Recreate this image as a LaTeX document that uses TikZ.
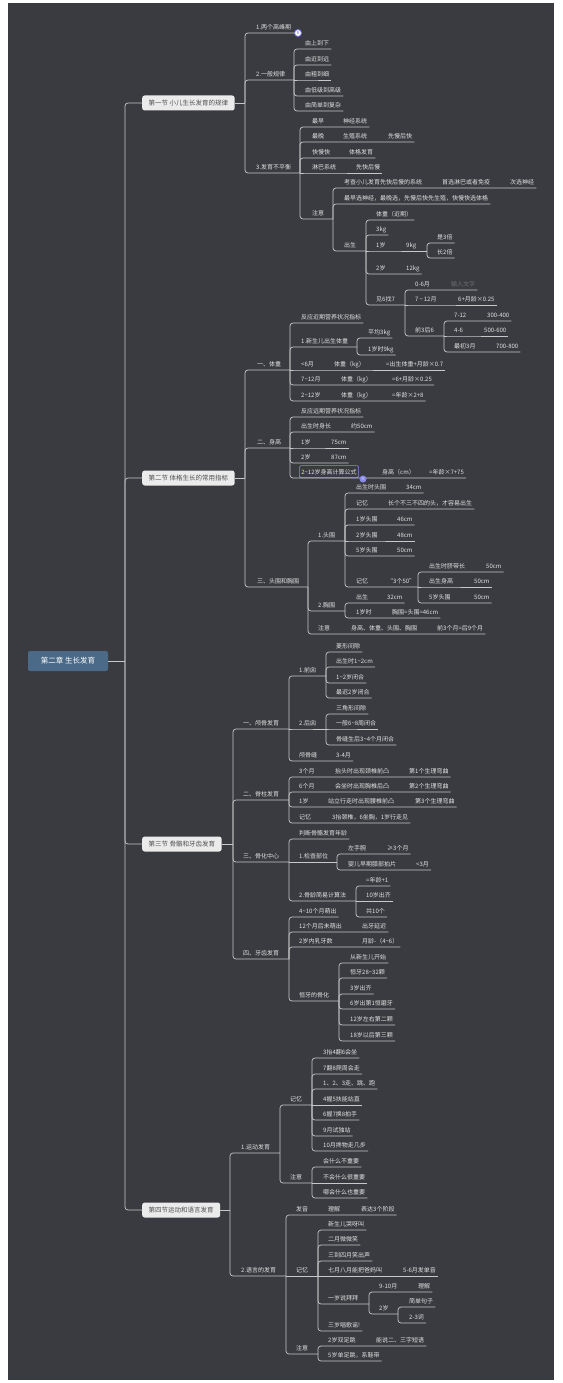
\documentclass[tikz,border=0pt]{standalone}
\usepackage{fontspec}
\newfontfamily\cjk{Noto Sans CJK SC}
\definecolor{bgc}{HTML}{3A3B40}
\definecolor{lnc}{HTML}{C8C8C8}
\definecolor{txtc}{HTML}{E2E2E2}
\definecolor{dimc}{HTML}{6E6E72}
\definecolor{secc}{HTML}{EBEBEB}
\definecolor{sectc}{HTML}{505050}
\definecolor{chapc}{HTML}{4A6A88}
\definecolor{selc}{HTML}{8A8AE6}
\newcommand\tld{\textasciitilde}
\newcommand\Nd[5][]{\node[t,#1] (#2) at ({#3-2},#4) {#5};}
\newcommand\Cn[3]{\draw[ln] (#1) |- (#2.south west) -- (#3.south east);}
\newcommand\Cs[3]{\draw[ln] (#1) -- (#2.south west) -- (#3.south east);}
\newcommand\Cj[3]{\draw[ln] (#1) |- (#2.south west) -- (#3);}
\newcommand\Cjs[3]{\draw[ln] (#1) -- (#2.south west) -- (#3);}
\tikzset{
 ln/.style={draw=lnc, line width=0.7pt, rounded corners=3pt},
 t/.style={anchor=south west, inner xsep=2pt, inner ysep=3.5pt, text depth=0pt, font=\cjk\fontsize{6}{7}\selectfont, text=txtc},
 dimtext/.style={text=dimc},
 selbox/.style={draw=selc, line width=0.6pt, rounded corners=1.5pt},
 sec/.style={anchor=west, fill=secc, text=sectc, rounded corners=2.5pt, inner xsep=6.5pt, minimum height=15pt, font=\cjk\fontsize{6.5}{7.5}\selectfont},
 chap/.style={fill=chapc, text=white, rounded corners=2pt, minimum width=80pt, minimum height=20pt, font=\cjk\fontsize{7.5}{9}\selectfont},
 badgea/.style={circle, fill=white, draw=selc!80!blue, line width=0.8pt, inner sep=0pt, minimum size=7pt, font=\cjk\fontsize{4}{4}\selectfont, text=selc!60!blue},
 badgeb/.style={circle, fill=selc, inner sep=0pt, minimum size=7pt, font=\cjk\fontsize{4}{4}\selectfont, text=white}
}
\begin{document}
\begin{tikzpicture}[x=1pt,y=-1pt]
\useasboundingbox (0,0) rectangle (562,1383);
\fill[white] (0,0) rectangle (562,1383);
\fill[bgc] (8,3) rectangle (554,1380);

% root
\node[chap] (ch) at (68,661) {第二章 生长发育};
\coordinate (R) at (125,661);
\draw[ln] (ch.east) -- (R);
\node[sec] (s1) at (142,103) {第一节 小儿生长发育的规律};
\node[sec] (s2) at (142,478) {第二节 体格生长的常用指标};
\node[sec] (s3) at (142,844) {第三节 骨骼和牙齿发育};
\node[sec] (s4) at (142,1210) {第四节运动和语言发育};
\draw[ln] (R) |- (s1.west);
\draw[ln] (R) |- (s2.west);
\draw[ln] (R) |- (s3.west);
\draw[ln] (R) |- (s4.west);

% ===== Section 1 =====
\coordinate (J1) at (245,103);
\draw[ln] (s1.east) -- (J1);
\Nd{a1}{256}{33}{1.两个高峰期}
\Nd{a2}{256}{80}{2.一般规律}
\Nd{a3}{256}{173}{3.发育不平衡}
\coordinate (bd1) at (295,33);
\coordinate (a2J) at (294,80);
\coordinate (a3J) at (300,173);
\Cj{J1}{a1}{bd1}
\Cj{J1}{a2}{a2J}
\Cj{J1}{a3}{a3J}
\node[badgea] (bd1n) at (298,33) {8};

\Nd{b1}{305}{49}{由上到下}
\Nd{b2}{305}{65}{由近到远}
\Nd{b3}{305}{80}{由粗到细}
\Nd{b4}{305}{96}{由低级到高级}
\Nd{b5}{305}{111}{由简单到复杂}
\Cn{a2J}{b1}{b1}
\Cn{a2J}{b2}{b2}
\Cs{a2J}{b3}{b3}
\Cn{a2J}{b4}{b4}
\Cn{a2J}{b5}{b5}

\Nd{c1}{312}{127}{最早}\Nd{c1b}{343}{127}{神经系统}
\Nd{c2}{312}{142}{最晚}\Nd{c2b}{343}{142}{生殖系统}\Nd{c2c}{388}{142}{先慢后快}
\Nd{c3}{312}{158}{快慢快}\Nd{c3b}{349}{158}{体格发育}
\Nd{c4}{312}{173}{淋巴系统}\Nd{c4b}{356}{173}{先快后慢}
\Nd{c5}{312}{219}{注意}
\coordinate (c5J) at (333,219);
\Cn{a3J}{c1}{c1b}
\Cn{a3J}{c2}{c2c}
\Cn{a3J}{c3}{c3b}
\Cs{a3J}{c4}{c4b}
\Cj{a3J}{c5}{c5J}

\Nd{d1}{344}{188}{考查小儿发育先快后慢的系统}\Nd{d1b}{442}{188}{首选淋巴或者免疫}\Nd{d1c}{510}{188}{次选神经}
\Nd{d2}{344}{204}{最早选神经，最晚选，先慢后快先生殖，快慢快选体格}
\Nd{d3}{344}{251}{出生}
\coordinate (d3J) at (366,251);
\Cn{c5J}{d1}{d1c}
\Cn{c5J}{d2}{d2}
\Cj{c5J}{d3}{d3J}

\Nd{e1}{376}{220}{体重（近期）}
\Nd{e2}{376}{235}{3kg}
\Nd{e3}{376}{251}{1岁}\Nd{e3b}{406}{251}{9kg}
\Nd{e4}{376}{274}{2岁}\Nd{e4b}{406}{274}{12kg}
\Nd{e5}{376}{305}{见6找7}
\coordinate (e3J) at (427,251);
\coordinate (e5J) at (405,305);
\Cn{d3J}{e1}{e1}
\Cn{d3J}{e2}{e2}
\Cjs{d3J}{e3}{e3J}
\Cn{d3J}{e4}{e4b}
\Cj{d3J}{e5}{e5J}

\Nd{f1}{437}{243}{是3倍}
\Nd{f2}{437}{258}{长2倍}
\Cn{e3J}{f1}{f1}
\Cn{e3J}{f2}{f2}

\Nd{g1}{415}{290}{0-6月}\Nd[dimtext]{g1b}{451}{290}{输入文字}
\Nd{g2}{415}{305}{7\,\tld\,12月}\Nd{g2b}{458}{305}{6+月龄×0.25}
\Nd{g3}{415}{336}{前3后6}
\coordinate (g3J) at (444,336);
\Cn{e5J}{g1}{g1b}
\Cs{e5J}{g2}{g2b}
\Cj{e5J}{g3}{g3J}

\Nd{h1}{454}{321}{7-12}\Nd{h1b}{487}{321}{300-400}
\Nd{h2}{454}{336}{4-6}\Nd{h2b}{484}{336}{500-600}
\Nd{h3}{454}{352}{最初3月}\Nd{h3b}{496}{352}{700-800}
\Cn{g3J}{h1}{h1b}
\Cs{g3J}{h2}{h2b}
\Cn{g3J}{h3}{h3b}

% ===== Section 2 =====
\coordinate (J2) at (245,478);
\draw[ln] (s2.east) -- (J2);
\Nd{i1}{257}{370}{一、体重}
\Nd{i2}{257}{448}{二、身高}
\Nd{i3}{257}{587}{三、头围和胸围}
\coordinate (i1J) at (290,370);
\coordinate (i2J) at (290,448);
\coordinate (i3J) at (308,587);
\Cj{J2}{i1}{i1J}
\Cj{J2}{i2}{i2J}
\Cj{J2}{i3}{i3J}

\Nd{j1}{301}{323}{反应近期营养状况指标}
\Nd{j2}{301}{347}{1.新生儿出生体重}
\Nd{j3}{301}{370}{<6月}\Nd{j3b}{334}{370}{体重（kg）}\Nd{j3c}{386}{370}{=出生体重+月龄×0.7}
\Nd{j4}{301}{385}{7\tld12月}\Nd{j4b}{341}{385}{体重（kg）}\Nd{j4c}{392}{385}{=6+月龄×0.25}
\Nd{j5}{301}{401}{2\tld12岁}\Nd{j5b}{341}{401}{体重（kg）}\Nd{j5c}{392}{401}{=年龄×2+8}
\coordinate (j2J) at (357,347);
\Cn{i1J}{j1}{j1}
\Cj{i1J}{j2}{j2J}
\Cs{i1J}{j3}{j3c}
\Cn{i1J}{j4}{j4c}
\Cn{i1J}{j5}{j5c}

\Nd{k1}{368}{338}{平均3kg}
\Nd{k2}{368}{355}{1岁时9kg}
\Cn{j2J}{k1}{k1}
\Cn{j2J}{k2}{k2}

\Nd{l1}{301}{417}{反应远期营养状况指标}
\Nd{l2}{301}{432}{出生时身长}\Nd{l2b}{351}{432}{约50cm}
\Nd{l3}{301}{448}{1岁}\Nd{l3b}{331}{448}{75cm}
\Nd{l4}{301}{463}{2岁}\Nd{l4b}{331}{463}{87cm}
\Nd[selbox]{l5}{301}{478}{2\tld12岁身高计算公式}\Nd{l5b}{382}{478}{身高（cm）}\Nd{l5c}{429}{478}{=年龄×7+75}
\Cn{i2J}{l1}{l1}
\Cn{i2J}{l2}{l2b}
\Cs{i2J}{l3}{l3b}
\Cn{i2J}{l4}{l4b}
\Cn{i2J}{l5}{l5c}
\node[badgeb] (bd2) at (363,479) {×};

\Nd{m1}{318}{541}{1.头围}
\Nd{m2}{318}{611}{2.胸围}
\Nd{m3}{318}{634}{注意}\Nd{m3b}{351}{634}{身高、体重、头围、胸围}\Nd{m3c}{437}{634}{前3个月=后9个月}
\coordinate (m1J) at (345,541);
\coordinate (m2J) at (345,611);
\Cj{i3J}{m1}{m1J}
\Cj{i3J}{m2}{m2J}
\Cn{i3J}{m3}{m3c}

\Nd{n1}{356}{493}{出生时头围}\Nd{n1b}{406}{493}{34cm}
\Nd{n2}{356}{509}{记忆}\Nd{n2b}{388}{509}{长个不三不四的头，才容易出生}
\Nd{n3}{356}{525}{1岁头围}\Nd{n3b}{397}{525}{46cm}
\Nd{n4}{356}{541}{2岁头围}\Nd{n4b}{397}{541}{48cm}
\Nd{n5}{356}{556}{5岁头围}\Nd{n5b}{397}{556}{50cm}
\Nd{n6}{356}{587}{记忆}\Nd{n6b}{387}{587}{“3个50”}
\coordinate (n6J) at (418,587);
\Cn{m1J}{n1}{n1b}
\Cn{m1J}{n2}{n2b}
\Cn{m1J}{n3}{n3b}
\Cs{m1J}{n4}{n4b}
\Cn{m1J}{n5}{n5b}
\Cj{m1J}{n6}{n6J}

\Nd{o1}{429}{572}{出生时脐带长}\Nd{o1b}{486}{572}{50cm}
\Nd{o2}{429}{587}{出生身高}\Nd{o2b}{474}{587}{50cm}
\Nd{o3}{429}{603}{5岁头围}\Nd{o3b}{474}{603}{50cm}
\Cn{n6J}{o1}{o1b}
\Cs{n6J}{o2}{o2b}
\Cn{n6J}{o3}{o3b}

\Nd{p1}{356}{603}{出生}\Nd{p1b}{387}{603}{32cm}
\Nd{p2}{356}{618}{1岁时}\Nd{p2b}{392}{618}{胸围=头围=46cm}
\Cn{m2J}{p1}{p1b}
\Cn{m2J}{p2}{p2b}

% ===== Section 3 =====
\coordinate (J3) at (233,844);
\draw[ln] (s3.east) -- (J3);
\Nd{q1}{243}{729}{一、颅骨发育}
\Nd{q2}{243}{800}{二、脊柱发育}
\Nd{q3}{243}{862}{三、骨化中心}
\Nd{q4}{243}{959}{四、牙齿发育}
\coordinate (q1J) at (289,729);
\coordinate (q2J) at (289,800);
\coordinate (q3J) at (289,862);
\coordinate (q4J) at (289,959);
\Cj{J3}{q1}{q1J}
\Cj{J3}{q2}{q2J}
\Cj{J3}{q3}{q3J}
\Cj{J3}{q4}{q4J}

\Nd{r1}{299}{676}{1.前囟}
\Nd{r2}{299}{729}{2.后囟}
\Nd{r3}{299}{761}{颅骨缝}\Nd{r3b}{336}{761}{3-4月}
\coordinate (r1J) at (326,676);
\coordinate (r2J) at (326,729);
\Cj{q1J}{r1}{r1J}
\Cjs{q1J}{r2}{r2J}
\Cn{q1J}{r3}{r3b}

\Nd{s1a}{336}{652}{菱形间隙}
\Nd{s2a}{336}{667}{出生时1\tld2cm}
\Nd{s3a}{336}{683}{1\tld2岁闭合}
\Nd{s4a}{336}{698}{最迟2岁闭合}
\Cn{r1J}{s1a}{s1a}
\Cn{r1J}{s2a}{s2a}
\Cn{r1J}{s3a}{s3a}
\Cn{r1J}{s4a}{s4a}
\Nd{s5a}{336}{714}{三角形间隙}
\Nd{s6a}{336}{729}{一般6\tld8周闭合}
\Nd{s7a}{336}{745}{骨缝生后3\tld4个月闭合}
\Cn{r2J}{s5a}{s5a}
\Cs{r2J}{s6a}{s6a}
\Cn{r2J}{s7a}{s7a}

\Nd{t1}{299}{777}{3个月}\Nd{t1b}{335}{777}{抬头时出现颈椎前凸}\Nd{t1c}{409}{777}{第1个生理弯曲}
\Nd{t2}{299}{792}{6个月}\Nd{t2b}{335}{792}{会坐时出现胸椎后凸}\Nd{t2c}{409}{792}{第2个生理弯曲}
\Nd{t3}{299}{807}{1岁}\Nd{t3b}{328}{807}{站立行走时出现腰椎前凸}\Nd{t3c}{415}{807}{第3个生理弯曲}
\Nd{t4}{299}{823}{记忆}\Nd{t4b}{332}{823}{3抬颈椎，6坐胸，1岁行走见}
\Cn{q2J}{t1}{t1c}
\Cn{q2J}{t2}{t2c}
\Cn{q2J}{t3}{t3c}
\Cn{q2J}{t4}{t4b}

\Nd{u1}{299}{839}{判断骨骼发育年龄}
\Nd{u2}{299}{862}{1.检查部位}
\Nd{u3}{299}{901}{2.骨龄简易计算法}
\coordinate (u2J) at (337,862);
\coordinate (u3J) at (356,901);
\Cn{q3J}{u1}{u1}
\Cjs{q3J}{u2}{u2J}
\Cj{q3J}{u3}{u3J}

\Nd{v1}{348}{854}{左手腕}\Nd{v1b}{387}{854}{≥3个月}
\Nd{v2}{348}{870}{婴儿早期膝部拍片}\Nd{v2b}{416}{870}{<3月}
\Cn{u2J}{v1}{v1b}
\Cn{u2J}{v2}{v2b}

\Nd{w1}{366}{886}{=年龄+1}
\Nd{w2}{366}{901}{10岁出齐}
\Nd{w3}{366}{917}{共10个}
\Cn{u3J}{w1}{w1}
\Cs{u3J}{w2}{w2}
\Cn{u3J}{w3}{w3}

\Nd{x1}{299}{917}{4\tld10个月萌出}
\Nd{x2}{299}{932}{12个月后未萌出}\Nd{x2b}{362}{932}{出牙延迟}
\Nd{x3}{299}{947}{2岁内乳牙数}\Nd{x3b}{362}{947}{月龄-（4\tld6）}
\Nd{x4}{299}{1001}{恒牙的骨化}
\coordinate (x4J) at (339,1001);
\Cn{q4J}{x1}{x1}
\Cn{q4J}{x2}{x2b}
\Cn{q4J}{x3}{x3b}
\Cj{q4J}{x4}{x4J}

\Nd{y1}{350}{963}{从新生儿开始}
\Nd{y2}{350}{978}{恒牙28\tld32颗}
\Nd{y3}{350}{994}{3岁出齐}
\Nd{y4}{350}{1009}{6岁出第1恒磨牙}
\Nd{y5}{350}{1025}{12岁左右第二颗}
\Nd{y6}{350}{1041}{18岁以后第三颗}
\Cn{x4J}{y1}{y1}
\Cn{x4J}{y2}{y2}
\Cn{x4J}{y3}{y3}
\Cn{x4J}{y4}{y4}
\Cn{x4J}{y5}{y5}
\Cn{x4J}{y6}{y6}

% ===== Section 4 =====
\coordinate (J4) at (230,1210);
\draw[ln] (s4.east) -- (J4);
\Nd{z1}{241}{1153}{1.运动发育}
\Nd{z2}{241}{1276}{2.语言的发育}
\coordinate (z1J) at (280,1153);
\coordinate (z2J) at (286,1276);
\Cj{J4}{z1}{z1J}
\Cj{J4}{z2}{z2J}

\Nd{A1}{290}{1105}{记忆}
\Nd{A2}{290}{1183}{注意}
\coordinate (A1J) at (312,1105);
\coordinate (A2J) at (312,1183);
\Cj{z1J}{A1}{A1J}
\Cj{z1J}{A2}{A2J}

\Nd{B1}{323}{1058}{3抬4翻6会坐}
\Nd{B2}{323}{1074}{7翻8爬周会走}
\Nd{B3}{323}{1089}{1、2、3走、跳、跑}
\Nd{B4}{323}{1105}{4握5扶能站直}
\Nd{B5}{323}{1120}{6握7换8拍手}
\Nd{B6}{323}{1136}{9月试独站}
\Nd{B7}{323}{1151}{10月搀物走几步}
\Cn{A1J}{B1}{B1}
\Cn{A1J}{B2}{B2}
\Cn{A1J}{B3}{B3}
\Cs{A1J}{B4}{B4}
\Cn{A1J}{B5}{B5}
\Cn{A1J}{B6}{B6}
\Cn{A1J}{B7}{B7}

\Nd{B8}{323}{1167}{会什么不重要}
\Nd{B9}{323}{1183}{不会什么很重要}
\Nd{B10}{323}{1198}{哪会什么也重要}
\Cn{A2J}{B8}{B8}
\Cs{A2J}{B9}{B9}
\Cn{A2J}{B10}{B10}

\Nd{C1}{296}{1215}{发音}\Nd{C1b}{328}{1215}{理解}\Nd{C1c}{361}{1215}{表达3个阶段}
\Nd{C2}{296}{1276}{记忆}
\Nd{C3}{296}{1354}{注意}
\coordinate (C2J) at (318,1276);
\coordinate (C3J) at (318,1354);
\Cn{z2J}{C1}{C1c}
\Cjs{z2J}{C2}{C2J}
\Cj{z2J}{C3}{C3J}

\Nd{D1}{328}{1230}{新生儿哭呀叫}
\Nd{D2}{328}{1245}{二月微微笑}
\Nd{D3}{328}{1261}{三到四月笑出声}
\Nd{D4}{328}{1276}{七月八月能把爸妈叫}\Nd{D4b}{403}{1276}{5-6月发单音}
\Nd{D5}{328}{1304}{一岁说拜拜}
\Nd{D6}{328}{1331}{三岁唱歌谣!}
\coordinate (D5J) at (369,1304);
\Cn{C2J}{D1}{D1}
\Cn{C2J}{D2}{D2}
\Cn{C2J}{D3}{D3}
\Cs{C2J}{D4}{D4b}
\Cj{C2J}{D5}{D5J}
\Cn{C2J}{D6}{D6}

\Nd{E1}{379}{1292}{9-10月}\Nd{E1b}{418}{1292}{理解}
\Nd{E2}{379}{1314}{2岁}
\coordinate (E2J) at (398,1314);
\Cn{D5J}{E1}{E1b}
\Cj{D5J}{E2}{E2J}

\Nd{F1}{409}{1307}{简单句子}
\Nd{F2}{409}{1323}{2-3词}
\Cn{E2J}{F1}{F1}
\Cn{E2J}{F2}{F2}

\Nd{G1}{328}{1346}{2岁双足跳}\Nd{G1b}{376}{1346}{能说二、三字短语}
\Nd{G2}{328}{1361}{5岁单足跳，系鞋带}
\Cn{C3J}{G1}{G1b}
\Cn{C3J}{G2}{G2}
\end{tikzpicture}
\end{document}
